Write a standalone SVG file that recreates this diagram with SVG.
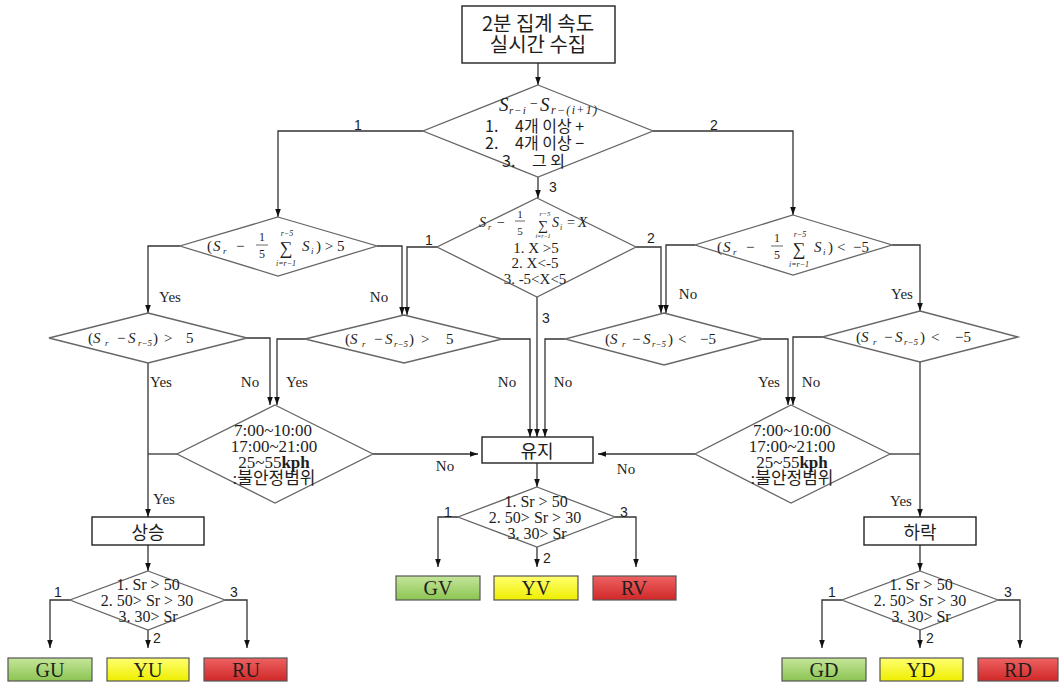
<svg xmlns="http://www.w3.org/2000/svg" width="1059" height="682" viewBox="0 0 1059 682">
<defs>
<style>
.ln{fill:none;stroke:#333;stroke-width:1.3}
.dm{fill:#fff;stroke:#666;stroke-width:1.3}
.bx{fill:#fff;stroke:#222;stroke-width:1.4}
.cb{stroke:#555;stroke-width:1.2}
.fb{stroke:#444;stroke-width:0.8}
text{fill:#1e1e1e}
.se{font-family:"Liberation Serif","Times New Roman","Noto Sans CJK KR",serif}
.ko{font-family:"Noto Sans CJK KR","Liberation Sans",sans-serif}
.sa{font-family:"Liberation Sans",Arial,sans-serif;font-size:14px}
.yn{font-family:"Liberation Serif","Times New Roman",serif;font-size:15px;text-anchor:middle}
.it{font-style:italic}
.m{text-anchor:middle}
.f15{font-size:15px}
.bt{font-family:"Liberation Serif","Times New Roman",serif;font-size:20px;text-anchor:middle}
.dt{font-family:"Liberation Serif","Times New Roman",serif;font-size:16px;text-anchor:middle}
.tt{font-family:"Liberation Serif","Times New Roman","Noto Sans CJK KR",serif;font-size:17px;text-anchor:middle}
</style>
<marker id="ah" viewBox="0 0 10 10" refX="10" refY="5" markerWidth="8" markerHeight="8" markerUnits="userSpaceOnUse" orient="auto"><path d="M0,1.5L10,5L0,8.5z" fill="#111"/></marker>
<linearGradient id="gG" x1="0" y1="0" x2="0" y2="1"><stop offset="0" stop-color="#c4e69a"/><stop offset="1" stop-color="#8cc452"/></linearGradient>
<linearGradient id="gY" x1="0" y1="0" x2="0" y2="1"><stop offset="0" stop-color="#ffff70"/><stop offset="1" stop-color="#eeee00"/></linearGradient>
<linearGradient id="gR" x1="0" y1="0" x2="0" y2="1"><stop offset="0" stop-color="#ee6262"/><stop offset="1" stop-color="#d02828"/></linearGradient>
</defs>
<rect width="1059" height="682" fill="#fff"/>

<g id="connectors" class="ln">
<path d="M538,63V85" marker-end="url(#ah)"/>
<path d="M423,131H278V217" marker-end="url(#ah)"/>
<path d="M653,131H793V215" marker-end="url(#ah)"/>
<path d="M538,177V198" marker-end="url(#ah)"/>
<path d="M180,246H148V313" marker-end="url(#ah)"/>
<path d="M377,246H402V315" marker-end="url(#ah)"/>
<path d="M437,247H407V315" marker-end="url(#ah)"/>
<path d="M636,247H661V313" marker-end="url(#ah)"/>
<path d="M695,245H666V313" marker-end="url(#ah)"/>
<path d="M892,245H920V311" marker-end="url(#ah)"/>
<path d="M247,338H270V405" marker-end="url(#ah)"/>
<path d="M305,339H277V405" marker-end="url(#ah)"/>
<path d="M148,363V517" marker-end="url(#ah)"/>
<path d="M177,454H148"/>
<path d="M373,454H478" marker-end="url(#ah)"/>
<path d="M502,339H530V437" marker-end="url(#ah)"/>
<path d="M537,297V437" marker-end="url(#ah)"/>
<path d="M565,339H545V437" marker-end="url(#ah)"/>
<path d="M763,339H788V405" marker-end="url(#ah)"/>
<path d="M822,337H793V405" marker-end="url(#ah)"/>
<path d="M695,454H598" marker-end="url(#ah)"/>
<path d="M920,362V517" marker-end="url(#ah)"/>
<path d="M890,454H920"/>
<path d="M537,463V487" marker-end="url(#ah)"/>
<path d="M458,517H438V567" marker-end="url(#ah)"/>
<path d="M615,517H636V567" marker-end="url(#ah)"/>
<path d="M537,547V567" marker-end="url(#ah)"/>
<path d="M148,545V571" marker-end="url(#ah)"/>
<path d="M70,600H50V648" marker-end="url(#ah)"/>
<path d="M225,600H247V648" marker-end="url(#ah)"/>
<path d="M148,630V648" marker-end="url(#ah)"/>
<path d="M920,545V571" marker-end="url(#ah)"/>
<path d="M842,600H822V648" marker-end="url(#ah)"/>
<path d="M998,600H1020V648" marker-end="url(#ah)"/>
<path d="M920,630V648" marker-end="url(#ah)"/>
</g>

<g id="labels">
<text class="sa m" x="358" y="130">1</text>
<text class="sa m" x="714" y="130">2</text>
<text class="sa m" x="553" y="192">3</text>
<text class="sa m" x="429" y="245">1</text>
<text class="sa m" x="651" y="243">2</text>
<text class="sa m" x="546" y="323">3</text>
<text class="yn" x="170" y="302">Yes</text>
<text class="yn" x="379" y="302">No</text>
<text class="yn" x="688" y="299">No</text>
<text class="yn" x="902" y="299">Yes</text>
<text class="yn" x="161" y="387">Yes</text>
<text class="yn" x="250" y="387">No</text>
<text class="yn" x="297" y="387">Yes</text>
<text class="yn" x="507" y="387">No</text>
<text class="yn" x="563" y="387">No</text>
<text class="yn" x="769" y="387">Yes</text>
<text class="yn" x="811" y="387">No</text>
<text class="yn" x="445" y="471">No</text>
<text class="yn" x="626" y="474">No</text>
<text class="yn" x="164" y="504">Yes</text>
<text class="yn" x="901" y="506">Yes</text>
<text class="sa m" x="448" y="517">1</text>
<text class="sa m" x="624" y="517">3</text>
<text class="sa m" x="547" y="563">2</text>
<text class="sa m" x="58" y="597">1</text>
<text class="sa m" x="234" y="597">3</text>
<text class="sa m" x="157" y="643">2</text>
<text class="sa m" x="832" y="597">1</text>
<text class="sa m" x="1008" y="597">3</text>
<text class="sa m" x="930" y="643">2</text>
</g>

<g id="n-start">
<rect class="bx" x="462" y="6" width="153" height="57"/>
<text class="ko m" x="538" y="31" font-size="20">2분 집계 속도</text>
<text class="ko m" x="538" y="52" font-size="20">실시간 수집</text>
</g>

<g id="n-d0">
<polygon class="dm" points="538,85 653,131 538,177 423,131"/>
<text class="se it" x="499" y="111" font-size="19">S</text>
<text class="se it" x="509" y="114" font-size="11" letter-spacing="1">r−i</text>
<text class="se" x="530" y="108" font-size="14">−</text>
<text class="se it" x="540" y="111" font-size="19">S</text>
<text class="se it" x="551" y="114" font-size="12" letter-spacing="1.3">r−(i+1)</text>
<text class="ko" font-size="16" y="132"><tspan x="485">1.</tspan><tspan x="515">4개 이상 +</tspan></text>
<text class="ko" font-size="16" y="149"><tspan x="485">2.</tspan><tspan x="515">4개 이상 −</tspan></text>
<text class="ko" font-size="16" y="167"><tspan x="502">3.</tspan><tspan x="532">그 외</tspan></text>
</g>

<g id="n-L1" class="se">
<polygon class="dm" points="278,217 377,246 278,276 180,246"/>
<text x="207" y="251" class="f15">(</text>
<text x="213" y="251" class="f15 it">S</text>
<text x="223" y="254" class="it" font-size="9">r</text>
<text x="236" y="251" class="f15">−</text>
<text x="262" y="241" class="m" font-size="12">1</text>
<line x1="256" y1="245" x2="268" y2="245" class="fb"/>
<text x="262" y="258" class="m" font-size="12">5</text>
<text x="286" y="254" class="m" font-size="18">∑</text>
<text x="287" y="236" class="m it" font-size="8">r−5</text>
<text x="286" y="266" class="m it" font-size="8">i=r−1</text>
<text x="302" y="251" class="f15 it">S</text>
<text x="311" y="254" class="it" font-size="9">i</text>
<text x="316" y="251" class="f15">) &gt; 5</text>
</g>

<g id="n-M" class="se">
<polygon class="dm" points="537,198 636,247 537,297 437,247"/>
<text x="479" y="227" class="it" font-size="14">S</text>
<text x="488" y="230" class="it" font-size="8">r</text>
<text x="497" y="227" font-size="14">−</text>
<text x="520" y="218" class="m" font-size="11">1</text>
<line x1="515" y1="221" x2="525" y2="221" class="fb"/>
<text x="520" y="235" class="m" font-size="11">5</text>
<text x="543" y="230" class="m" font-size="14">∑</text>
<text x="545" y="216" class="m it" font-size="7">r−5</text>
<text x="543" y="238" class="m it" font-size="6">i=r−1</text>
<text x="552" y="227" class="it" font-size="14">S</text>
<text x="560" y="230" class="it" font-size="8">i</text>
<text x="567" y="227" font-size="14">=</text>
<text x="578" y="227" class="it" font-size="15">X</text>
<text x="536" y="253" class="m f15">1. X &gt;5</text>
<text x="535" y="268" class="m f15">2. X&lt;-5</text>
<text x="535" y="284" class="m f15">3. -5&lt;X&lt;5</text>
</g>

<g id="n-R1" class="se">
<polygon class="dm" points="793,215 892,245 793,275 695,245"/>
<text x="717" y="252" class="f15">(</text>
<text x="723" y="252" class="f15 it">S</text>
<text x="733" y="255" class="it" font-size="9">r</text>
<text x="746" y="252" class="f15">−</text>
<text x="777" y="242" class="m" font-size="12">1</text>
<line x1="771" y1="246" x2="783" y2="246" class="fb"/>
<text x="777" y="259" class="m" font-size="12">5</text>
<text x="799" y="255" class="m" font-size="18">∑</text>
<text x="800" y="237" class="m it" font-size="8">r−5</text>
<text x="799" y="267" class="m it" font-size="8">i=r−1</text>
<text x="814" y="252" class="f15 it">S</text>
<text x="823" y="255" class="it" font-size="9">i</text>
<text x="828" y="252" class="f15">)</text>
<text x="837" y="252" class="f15">&lt;</text>
<text x="853" y="252" class="f15">−5</text>
</g>

<g id="n-L2" class="se">
<polygon class="dm" points="148,313 247,338 148,363 49,338"/>
<text x="88" y="343" class="f15">(</text>
<text x="93" y="343" class="f15 it">S</text>
<text x="105" y="346" class="it" font-size="9">r</text>
<text x="117" y="343" class="f15">−</text>
<text x="128" y="343" class="f15 it">S</text>
<text x="138" y="346" class="it" font-size="9">r−5</text>
<text x="153" y="343" class="f15">)</text>
<text x="164" y="343" class="f15">&gt;</text>
<text x="186" y="343" class="f15">5</text>
</g>

<g id="n-L3" class="se">
<polygon class="dm" points="404,315 502,339 404,363 305,339"/>
<text x="345" y="344" class="f15">(</text>
<text x="350" y="344" class="f15 it">S</text>
<text x="362" y="347" class="it" font-size="9">r</text>
<text x="374" y="344" class="f15">−</text>
<text x="385" y="344" class="f15 it">S</text>
<text x="394" y="347" class="it" font-size="9">r−5</text>
<text x="409" y="344" class="f15">)</text>
<text x="421" y="344" class="f15">&gt;</text>
<text x="446" y="344" class="f15">5</text>
</g>

<g id="n-R3" class="se">
<polygon class="dm" points="664,313 763,339 664,365 565,339"/>
<text x="605" y="344" class="f15">(</text>
<text x="610" y="344" class="f15 it">S</text>
<text x="622" y="347" class="it" font-size="9">r</text>
<text x="632" y="344" class="f15">−</text>
<text x="643" y="344" class="f15 it">S</text>
<text x="652" y="347" class="it" font-size="9">r−5</text>
<text x="668" y="344" class="f15">)</text>
<text x="678" y="344" class="f15">&lt;</text>
<text x="700" y="344" class="f15">−5</text>
</g>

<g id="n-R2" class="se">
<polygon class="dm" points="920,311 1018,337 920,362 822,337"/>
<text x="856" y="342" class="f15">(</text>
<text x="861" y="342" class="f15 it">S</text>
<text x="873" y="345" class="it" font-size="9">r</text>
<text x="884" y="342" class="f15">−</text>
<text x="895" y="342" class="f15 it">S</text>
<text x="904" y="345" class="it" font-size="9">r−5</text>
<text x="920" y="342" class="f15">)</text>
<text x="931" y="342" class="f15">&lt;</text>
<text x="955" y="342" class="f15">−5</text>
</g>

<g id="n-L4">
<polygon class="dm" points="275,405 373,454 275,503 177,454"/>
<text class="tt" x="273" y="436">7:00~10:00</text>
<text class="tt" x="274" y="452">17:00~21:00</text>
<text class="tt" x="274" y="468">25~55<tspan font-weight="bold">kph</tspan></text>
<text class="tt" x="274" y="484" font-size="16">:불안정범위</text>
</g>

<g id="n-R4">
<polygon class="dm" points="791,405 890,454 791,503 695,454"/>
<text class="tt" x="792" y="436">7:00~10:00</text>
<text class="tt" x="792" y="452">17:00~21:00</text>
<text class="tt" x="792" y="468">25~55<tspan font-weight="bold">kph</tspan></text>
<text class="tt" x="792" y="484" font-size="16">:불안정범위</text>
</g>

<g id="n-keep">
<rect class="bx" x="482" y="437" width="111" height="26"/>
<text class="ko m" x="537" y="458" font-size="18">유지</text>
</g>

<g id="n-up">
<rect class="bx" x="92" y="517" width="112" height="28"/>
<text class="ko m" x="148" y="539" font-size="18">상승</text>
</g>

<g id="n-down">
<rect class="bx" x="864" y="517" width="112" height="28"/>
<text class="ko m" x="920" y="539" font-size="18">하락</text>
</g>

<g id="n-dV">
<polygon class="dm" points="537,487 615,517 537,547 458,517"/>
<text class="dt" x="536" y="507">1. Sr &gt; 50</text>
<text class="dt" x="535" y="523">2. 50&gt; Sr &gt; 30</text>
<text class="dt" x="537" y="539">3. 30&gt; Sr</text>
</g>

<g id="n-dU">
<polygon class="dm" points="148,571 225,600 148,630 70,600"/>
<text class="dt" x="148" y="590">1. Sr &gt; 50</text>
<text class="dt" x="147" y="606">2. 50&gt; Sr &gt; 30</text>
<text class="dt" x="148" y="622">3. 30&gt; Sr</text>
</g>

<g id="n-dD">
<polygon class="dm" points="920,571 998,600 920,630 842,600"/>
<text class="dt" x="921" y="590">1. Sr &gt; 50</text>
<text class="dt" x="920" y="606">2. 50&gt; Sr &gt; 30</text>
<text class="dt" x="921" y="622">3. 30&gt; Sr</text>
</g>

<g id="n-GV"><rect class="cb" x="396" y="576" width="84" height="24" fill="url(#gG)"/><text class="bt" x="438" y="595">GV</text></g>
<g id="n-YV"><rect class="cb" x="494" y="576" width="84" height="24" fill="url(#gY)"/><text class="bt" x="536" y="595">YV</text></g>
<g id="n-RV"><rect class="cb" x="593" y="576" width="83" height="24" fill="url(#gR)"/><text class="bt" x="634" y="595">RV</text></g>
<g id="n-GU"><rect class="cb" x="8" y="658" width="84" height="23" fill="url(#gG)"/><text class="bt" x="50" y="677">GU</text></g>
<g id="n-YU"><rect class="cb" x="107" y="658" width="82" height="23" fill="url(#gY)"/><text class="bt" x="148" y="677">YU</text></g>
<g id="n-RU"><rect class="cb" x="204" y="658" width="83" height="23" fill="url(#gR)"/><text class="bt" x="246" y="677">RU</text></g>
<g id="n-GD"><rect class="cb" x="782" y="658" width="84" height="23" fill="url(#gG)"/><text class="bt" x="824" y="677">GD</text></g>
<g id="n-YD"><rect class="cb" x="880" y="658" width="83" height="23" fill="url(#gY)"/><text class="bt" x="921" y="677">YD</text></g>
<g id="n-RD"><rect class="cb" x="978" y="658" width="80" height="23" fill="url(#gR)"/><text class="bt" x="1018" y="677">RD</text></g>
</svg>
